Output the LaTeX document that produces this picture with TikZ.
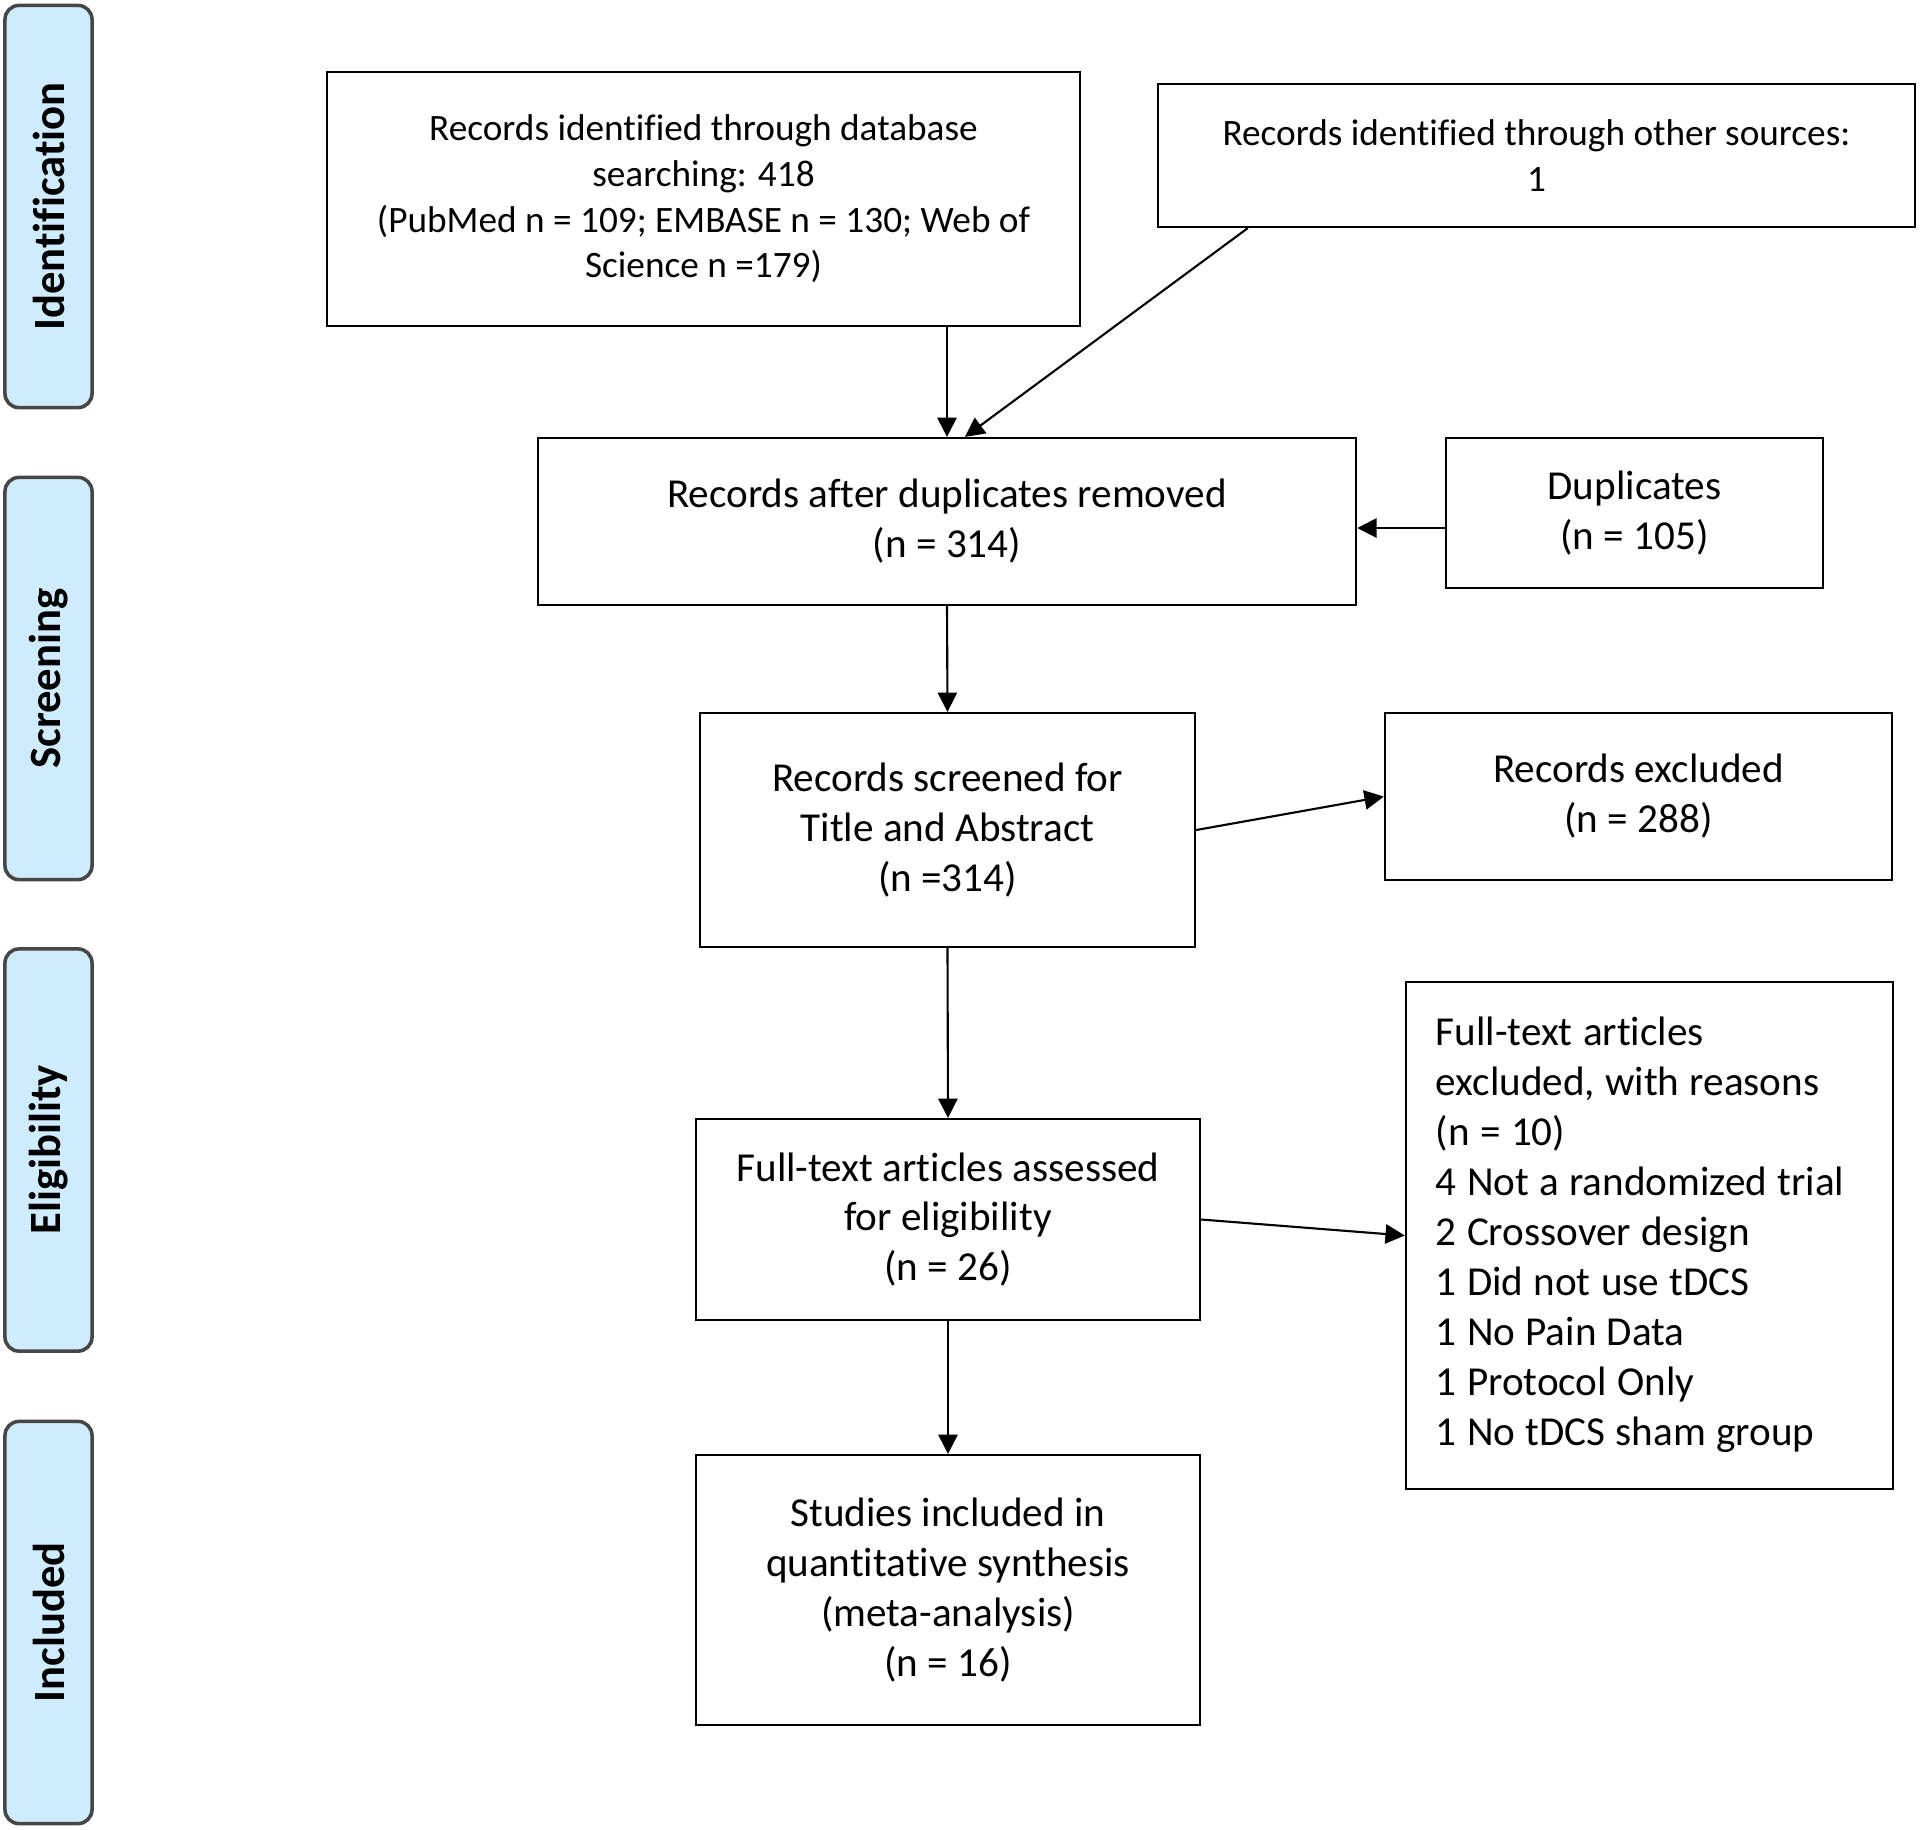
\documentclass[tikz,border=0pt]{standalone}
\usepackage{fontspec}
\setmainfont{Carlito}[Ligatures=NoCommon]
\usetikzlibrary{arrows.meta}

\definecolor{stagefill}{RGB}{207,236,255}
\definecolor{stageline}{RGB}{70,70,70}

\newcommand\narrowspaces{\spaceskip=0.25em\relax}

\tikzset{
  box/.style={draw=black, line width=0.6pt, inner sep=0pt, align=center},
  smallbox/.style={box, font=\fontsize{10.6}{13}\selectfont},
  bigbox/.style={box, font=\fontsize{11.7}{14.2}\selectfont},
  listbox/.style={draw=black, line width=0.6pt, inner sep=0pt,
    font=\fontsize{11.7}{14.2}\selectfont},
  stage/.style={draw=stageline, fill=stagefill, line width=1pt, rounded corners=0.14cm,
    minimum width=4.02cm, minimum height=0.87cm, inner sep=0pt, rotate=90,
    font=\fontsize{12.7}{15}\selectfont\bfseries},
  flow/.style={-{Triangle[length=5.5pt,width=5.5pt]}, line width=0.6pt},
}

\begin{document}
\begin{tikzpicture}[x=0.01cm, y=-0.01cm]
\useasboundingbox (0,0) rectangle (1920,1829);
% stages
\node[stage] (ident) at (48.5,206.5) {Identification};
\node[stage] (screening) at (48.5,678.5) {Screening};
\node[stage] (elig) at (48.5,1150) {Eligibility};
\node[stage] (incl) at (48.5,1622.5) {Included};
% boxes
\node[smallbox, minimum width=7.53cm, minimum height=2.54cm] (db) at (703.5,199)
  {Records identified through database\\searching: 418\\(PubMed n = 109; EMBASE n = 130; Web of\\Science n =179)};
\node[smallbox, minimum width=7.57cm, minimum height=1.43cm] (other) at (1536.5,155.5)
  {Records identified through other sources:\\1};
\node[bigbox, minimum width=8.18cm, minimum height=1.67cm] (dedup) at (947,521.5)
  {Records after duplicates removed\\(n = 314)};
\node[bigbox, minimum width=3.77cm, minimum height=1.5cm] (dups) at (1634.5,513)
  {Duplicates\\(n = 105)};
\node[bigbox, minimum width=4.95cm, minimum height=2.34cm] (screen) at (947.5,830)
  {Records screened for\\Title and Abstract\\(n =314)};
\node[bigbox, minimum width=5.07cm, minimum height=1.67cm] (excl) at (1638.5,796.5)
  {Records excluded\\(n = 288)};
\node[bigbox, minimum width=5.04cm, minimum height=2.01cm] (fulltext) at (948,1219.5)
  {Full-text articles assessed\\for eligibility\\(n = 26)};
\node[listbox, text width=4.27cm, minimum width=4.87cm, minimum height=5.07cm] (reasons) at (1649.5,1235.5)
  {\narrowspaces\begin{tabular}{@{}l@{}}Full-text articles\\excluded, with reasons\\(n = 10)\\4 Not a randomized trial\\2 Crossover design\\1 Did not use tDCS\\1 No Pain Data\\1 Protocol Only\\1 No tDCS sham group\end{tabular}};
\node[bigbox, minimum width=5.04cm, minimum height=2.7cm] (studies) at (948,1590)
  {Studies included in\\quantitative synthesis\\(meta-analysis)\\(n = 16)};
% arrows
\draw[flow] (db.south -| dedup.north) -- (dedup.north);
\draw[flow] ([xshift=0.91cm]other.south west) -- ([xshift=0.18cm]dedup.north);
\draw[flow] ([yshift=-0.15cm]dups.west) -- ([yshift=-0.15cm]dups.west -| dedup.east);
\draw[flow] (dedup.south) -- (screen.north);
\draw[flow] (screen.east) -- (excl.west);
\draw[flow] (screen.south) -- (fulltext.north);
\draw[flow] (fulltext.east) -- (reasons.west);
\draw[flow] (fulltext.south) -- (studies.north);
\end{tikzpicture}
\end{document}
